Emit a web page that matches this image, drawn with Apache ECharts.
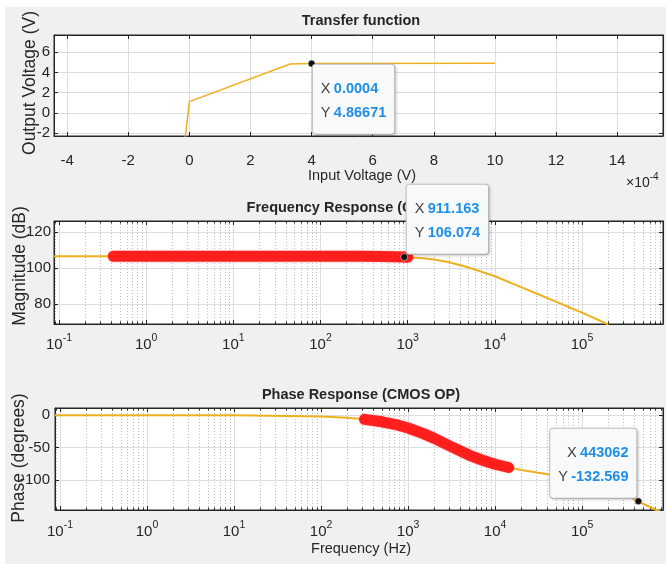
<!DOCTYPE html>
<html><head><meta charset="utf-8">
<script src="https://cdn.jsdelivr.net/npm/echarts@6.0.0/dist/echarts.min.js"></script>
<style>html,body{margin:0;padding:0;background:#fff}#c{width:666px;height:564px}</style>
</head><body><div id="c"></div>
<script>
// ---------- data ----------
const tfX = [-0.000014, 0, 0.00033, 0.0004, 0.001];
const tfY = [-2.6, 1.1, 4.83, 4.86671, 4.9];
const tfTip = [0.0004, 4.86671];

const magF  = [0.0877, 0.1, 0.42, 1, 10, 100, 300, 500, 700, 911.163, 1000, 1500, 2000, 3000, 5000, 7000, 10000, 20000, 30000, 50000, 70000, 100000, 150000, 200000];
const magDB = [106.5, 106.5, 106.5, 106.5, 106.5, 106.49, 106.45, 106.36, 106.24, 106.074, 105.99, 105.4, 104.7, 103.2, 100.3, 97.9, 95.4, 89.4, 85.9, 81.4, 78.4, 75.3, 71.5, 68.7];
const magHighlight = [0.42, 1000];
const magTip = [911.163, 106.074];

const phF   = [0.0877, 1, 10, 100, 200, 316, 500, 700, 1000, 1500, 2000, 3000, 5000, 7000, 10000, 14300, 20000, 30000, 50000, 100000, 200000, 300000, 443062, 600000, 700000, 849000];
const phDeg = [0, -0.02, -0.2, -2.0, -4.1, -6.5, -10.2, -14.1, -19.8, -28.4, -35.8, -47.3, -61.4, -69.0, -75.6, -80.6, -84.4, -88.3, -92.8, -100.3, -112.0, -121.7, -132.569, -141.4, -145.6, -150.6];
const phHighlight = [316, 14300];
const phTip = [443062, -132.569];

// ---------- style ----------
const SANS = '"Liberation Sans", Arial, sans-serif';
const TXT = '#262626';
const ORANGE = '#EDB120';
const GRID_C = '#dedede';
const TICK_FS = 15;

const LOGMIN = 0.0877, LOGMAX = 849000;
const lim = {
  tfx: [-0.000443, 0.00155], tfy: [-2.3, 7.7],
  mag: [69, 126], ph: [-146, 11]
};

const zip = (a, b) => a.map((v, i) => [v, b[i]]);
const inRange = (pts, r) => pts.filter(p => p[0] >= r[0] && p[0] <= r[1]);

// minor log positions
const minorVals = [];
for (let k = -2; k <= 5; k++) for (let m = 2; m <= 9; m++) {
  const v = m * Math.pow(10, k);
  if (v > LOGMIN * 1.02 && v < LOGMAX * 0.99) minorVals.push(v);
}
function minorMarks(yr, dy) {
  const d = [];
  minorVals.forEach(v => d.push({xAxis: v, lineStyle: {type: [1, 2], color: '#bcbcbc', width: 1}}));
  minorVals.forEach(v => {
    d.push([{coord: [v, yr[0]], lineStyle: {type: 'solid', color: TXT, width: 1}}, {coord: [v, yr[0] + dy]}]);
    d.push([{coord: [v, yr[1] - dy], lineStyle: {type: 'solid', color: TXT, width: 1}}, {coord: [v, yr[1]]}]);
  });
  return {silent: true, symbol: ['none', 'none'], label: {show: false}, animation: false, data: d, z: 1};
}

function logLabel(v) {
  const e = Math.log10(v); const r = Math.round(e);
  if (Math.abs(e - r) > 1e-6) return '';
  return '{b|10}{s|' + (r < 0 ? '-' : '') + Math.abs(r) + '}';
}
const logRich = {
  b: {fontFamily: SANS, fontSize: TICK_FS, color: TXT, lineHeight: 24},
  s: {fontFamily: SANS, fontSize: 10.5, color: TXT, lineHeight: 11, verticalAlign: 'top'}
};
const tickIn = {show: true, inside: true, length: 4, lineStyle: {color: TXT}};
const aLine = {show: true, onZero: false, lineStyle: {color: TXT, width: 1}};

function linFmt(scale, step) {
  return v => {
    const u = v * scale; const r = Math.round(u);
    if (Math.abs(u - r) > 1e-6 || r % step !== 0) return '';
    return String(r);
  };
}

function tipLabel(x, y, pos, align, valign) {
  return {
    show: true, position: pos, align: align, verticalAlign: valign,
    formatter: '{k|X} {v|' + x + '}\n{k|Y} {v|' + y + '}',
    backgroundColor: '#f8f9fb', borderColor: '#c4c4c4', borderWidth: 1, borderRadius: 3,
    padding: [12, 8, 9, 8],
    shadowColor: 'rgba(0,0,0,0.18)', shadowBlur: 3, shadowOffsetX: 1, shadowOffsetY: 1,
    rich: {
      k: {fontFamily: SANS, fontSize: 14.5, color: '#404040', lineHeight: 24},
      v: {fontFamily: SANS, fontSize: 14.5, fontWeight: 'bold', color: '#1e8fe6', lineHeight: 24}
    }
  };
}
function tipPoint(coord, label) {
  return {
    z: 20, animation: false, symbol: 'circle', symbolSize: 7,
    itemStyle: {color: '#111', borderColor: '#fff', borderWidth: 0.5},
    label: label, data: [{coord: coord}]
  };
}

const grids = [
  {left: 54, top: 35, width: 610, height: 101},
  {left: 54, top: 221, width: 610, height: 103},
  {left: 55, top: 408, width: 609, height: 102}
].map(g => Object.assign({show: true, backgroundColor: '#fff', borderColor: TXT, borderWidth: 1}, g));

const xAxis = [
  {gridIndex: 0, type: 'value', min: lim.tfx[0], max: lim.tfx[1], splitNumber: 10, position: 'bottom',
   axisLine: aLine, axisTick: tickIn,
   axisLabel: {margin: 17, color: TXT, fontFamily: SANS, fontSize: TICK_FS, formatter: linFmt(1e4, 2)},
   splitLine: {show: true, lineStyle: {color: GRID_C}}},
  {gridIndex: 0, type: 'value', min: lim.tfx[0], max: lim.tfx[1], splitNumber: 10, position: 'top',
   axisLine: aLine, axisTick: tickIn, axisLabel: {show: false}, splitLine: {show: false}},
  {gridIndex: 1, type: 'log', logBase: 10, min: LOGMIN, max: LOGMAX, splitNumber: 7, position: 'bottom',
   axisLine: aLine, axisTick: tickIn,
   axisLabel: {margin: 9, formatter: logLabel, rich: logRich},
   splitLine: {show: true, lineStyle: {color: GRID_C}}},
  {gridIndex: 1, type: 'log', logBase: 10, min: LOGMIN, max: LOGMAX, splitNumber: 7, position: 'top',
   axisLine: aLine, axisTick: tickIn, axisLabel: {show: false}, splitLine: {show: false}},
  {gridIndex: 2, type: 'log', logBase: 10, min: LOGMIN, max: LOGMAX, splitNumber: 7, position: 'bottom',
   axisLine: aLine, axisTick: tickIn,
   axisLabel: {margin: 10, formatter: logLabel, rich: logRich},
   splitLine: {show: true, lineStyle: {color: GRID_C}}},
  {gridIndex: 2, type: 'log', logBase: 10, min: LOGMIN, max: LOGMAX, splitNumber: 7, position: 'top',
   axisLine: aLine, axisTick: tickIn, axisLabel: {show: false}, splitLine: {show: false}}
];

function yPair(gi, r, sn, step, margin) {
  return [
    {gridIndex: gi, type: 'value', min: r[0], max: r[1], splitNumber: sn, position: 'left',
     axisLine: aLine, axisTick: tickIn,
     axisLabel: {margin: margin, color: TXT, fontFamily: SANS, fontSize: TICK_FS, formatter: linFmt(1, step)},
     splitLine: {show: true, lineStyle: {color: GRID_C}}},
    {gridIndex: gi, type: 'value', min: r[0], max: r[1], splitNumber: sn, position: 'right',
     axisLine: aLine, axisTick: tickIn, axisLabel: {show: false}, splitLine: {show: false}}
  ];
}
const yAxis = [].concat(yPair(0, lim.tfy, 5, 2, 4), yPair(1, lim.mag, 3, 20, 3), yPair(2, lim.ph, 3, 50, 5));

const magPts = zip(magF, magDB);
const phPts = zip(phF, phDeg);

const bandStyle = {color: '#ff1414', width: 11, cap: 'round', opacity: 0.93,
  shadowColor: 'rgba(255,80,80,0.5)', shadowBlur: 2};

const series = [
  {type: 'line', xAxisIndex: 0, yAxisIndex: 0, data: zip(tfX, tfY), symbol: 'none', animation: false,
   lineStyle: {color: ORANGE, width: 1.5}, markPoint: tipPoint(tfTip, tipLabel(tfTip[0], tfTip[1], [5, 5], 'left', 'top'))},
  {type: 'line', xAxisIndex: 2, yAxisIndex: 2, data: magPts, symbol: 'none', animation: false,
   lineStyle: {color: ORANGE, width: 2}, markLine: minorMarks(lim.mag, 1.4)},
  {type: 'line', xAxisIndex: 2, yAxisIndex: 2, data: inRange(magPts, magHighlight), symbol: 'none', animation: false,
   lineStyle: bandStyle,
   markPoint: tipPoint(magTip, tipLabel(magTip[0], magTip[1], [6.3, 0.5], 'left', 'bottom'))},
  {type: 'line', xAxisIndex: 4, yAxisIndex: 4, data: phPts, symbol: 'none', animation: false,
   lineStyle: {color: ORANGE, width: 2}, markLine: minorMarks(lim.ph, 3.8)},
  {type: 'line', xAxisIndex: 4, yAxisIndex: 4, data: inRange(phPts, phHighlight), symbol: 'none', animation: false,
   lineStyle: bandStyle},
  {type: 'line', xAxisIndex: 4, yAxisIndex: 4, data: [], symbol: 'none', animation: false,
   markPoint: tipPoint(phTip, tipLabel(phTip[0], phTip[1], [1.8, 0.2], 'right', 'bottom'))}
];

function txt(t, x, y, font, rot) {
  return {type: 'text', x: x, y: y, rotation: rot || 0, z: 5,
    style: {text: t, fill: TXT, font: font, align: 'center', verticalAlign: 'middle', textAlign: 'center', textVerticalAlign: 'middle'}};
}
const graphic = [
  {type: 'rect', shape: {x: 5, y: 7, width: 661, height: 557}, style: {fill: '#f0f0f0'}, z: -100, silent: true},
  txt('Transfer function', 361, 21, 'bold 14.5px ' + SANS),
  txt('Frequency Response (CMOS OP)', 361, 208, 'bold 14.5px ' + SANS),
  txt('Phase Response (CMOS OP)', 361, 394.5, 'bold 14.5px ' + SANS),
  txt('Input Voltage (V)', 362, 176, '14.5px ' + SANS),
  txt('Frequency (Hz)', 361, 549, '14.5px ' + SANS),
  txt('Output Voltage (V)', 30, 83, '17.5px ' + SANS, Math.PI / 2),
  txt('Magnitude (dB)', 20, 266, '17.5px ' + SANS, Math.PI / 2),
  txt('Phase (degrees)', 19, 458, '17.5px ' + SANS, Math.PI / 2),
  {type: 'text', x: 626, y: 183, z: 5, style: {text: '{b|×10}{s|-4}', align: 'left', verticalAlign: 'middle',
    rich: {b: {fontFamily: SANS, fontSize: 14, fill: TXT, color: TXT, lineHeight: 22},
           s: {fontFamily: SANS, fontSize: 10, fill: TXT, color: TXT, lineHeight: 11, verticalAlign: 'top'}}}}
];

const chart = echarts.init(document.getElementById('c'), null, {renderer: 'canvas'});
chart.setOption({
  backgroundColor: '#ffffff', animation: false,
  grid: grids, xAxis: xAxis, yAxis: yAxis, series: series, graphic: graphic
});
</script></body></html>
